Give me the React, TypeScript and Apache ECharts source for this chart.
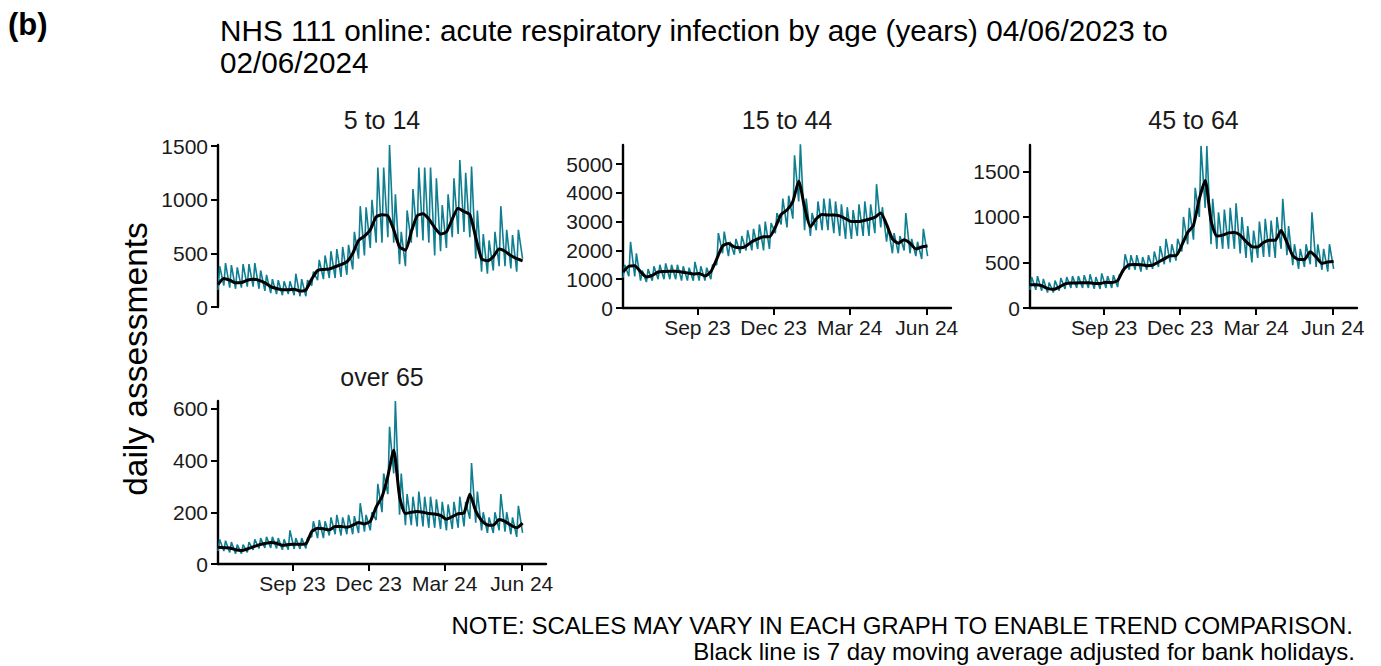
import React, { useEffect, useRef } from "react";
import * as echarts from "echarts";

// Weekly readings (week 0 starts Sun 04/06/2023). Lows: 53 values (weeks 0..52), highs: 52 values, avg: 53 values.
const age5to14High = [380, 410, 390, 370, 400, 400, 410, 340, 300, 260, 250, 240, 240, 310, 260, 250, 330, 440, 480, 520, 540, 560, 580, 700, 940, 930, 1000, 1300, 1300, 1510, 1050, 700, 900, 1100, 1300, 1300, 1300, 1200, 950, 1050, 1200, 1370, 1250, 1310, 900, 680, 620, 700, 940, 720, 670, 720];
const age5to14Low = [160, 200, 180, 170, 180, 190, 190, 170, 150, 130, 120, 110, 120, 110, 100, 100, 200, 250, 260, 270, 270, 280, 300, 350, 450, 480, 550, 600, 600, 650, 600, 400, 380, 600, 650, 620, 600, 480, 520, 550, 650, 680, 700, 650, 450, 330, 310, 340, 380, 380, 360, 330, 450];
const age5to14Avg = [210, 265, 250, 225, 228, 250, 258, 248, 225, 190, 172, 160, 160, 165, 148, 160, 260, 340, 350, 355, 375, 395, 420, 500, 620, 660, 720, 840, 860, 850, 720, 560, 530, 700, 850, 870, 820, 740, 680, 700, 820, 920, 890, 860, 650, 450, 430, 470, 540, 520, 480, 450, 430];

const age15to44High = [1500, 2300, 1900, 1300, 1350, 1450, 1500, 1550, 1500, 1500, 1450, 1400, 1600, 1450, 1400, 1500, 2600, 2650, 2300, 2400, 2500, 2700, 2750, 2900, 3000, 2950, 3300, 3800, 3900, 5300, 5700, 3800, 3300, 3700, 3800, 3800, 3700, 3600, 3500, 3400, 3600, 3700, 3600, 4300, 3500, 2800, 2600, 2500, 3300, 2400, 2300, 2750];
const age15to44Low = [1050, 1100, 1100, 950, 900, 950, 1000, 1000, 1000, 1000, 950, 950, 950, 950, 950, 1000, 1500, 1900, 1800, 1850, 1900, 2000, 2000, 2050, 2000, 2050, 2600, 2900, 2800, 3100, 3700, 2700, 2500, 2700, 2700, 2700, 2600, 2500, 2400, 2400, 2500, 2500, 2500, 2600, 2800, 2300, 1900, 1900, 2000, 1900, 1800, 1700, 1800];
const age15to44Avg = [1250, 1450, 1470, 1260, 1080, 1130, 1250, 1270, 1280, 1280, 1250, 1220, 1180, 1200, 1110, 1260, 1700, 2150, 2240, 2120, 2090, 2150, 2300, 2400, 2475, 2470, 2800, 3250, 3400, 3700, 4400, 3500, 2820, 3100, 3250, 3230, 3230, 3200, 3100, 3000, 3000, 3030, 3080, 3150, 3300, 2900, 2400, 2250, 2370, 2250, 2050, 2120, 2150];

const age45to64High = [340, 350, 320, 280, 300, 330, 340, 350, 350, 360, 370, 340, 380, 350, 360, 360, 590, 580, 580, 560, 580, 620, 680, 760, 700, 760, 1000, 1100, 1320, 1780, 1780, 1200, 1050, 1080, 1100, 1150, 1000, 900, 850, 950, 980, 960, 1000, 1200, 900, 700, 650, 700, 1050, 700, 650, 700];
const age45to64Low = [200, 200, 190, 170, 170, 190, 210, 220, 220, 220, 220, 210, 210, 220, 220, 230, 400, 420, 420, 400, 420, 430, 450, 480, 500, 520, 620, 700, 750, 1000, 1100, 700, 650, 650, 650, 650, 600, 550, 500, 550, 560, 560, 550, 650, 580, 470, 430, 450, 480, 450, 420, 400, 430];
const age45to64Avg = [255, 255, 245, 215, 205, 230, 265, 275, 275, 278, 278, 270, 270, 282, 280, 300, 420, 475, 478, 476, 465, 471, 505, 540, 573, 575, 690, 830, 910, 1200, 1400, 960, 790, 800, 825, 830, 800, 730, 675, 670, 720, 745, 745, 850, 720, 575, 533, 533, 617, 560, 490, 505, 510];

const over65High = [95, 90, 85, 75, 75, 85, 95, 100, 105, 105, 100, 95, 130, 100, 100, 100, 165, 170, 165, 180, 190, 180, 190, 185, 235, 190, 200, 310, 350, 530, 630, 350, 270, 260, 280, 260, 260, 250, 240, 230, 240, 260, 240, 390, 280, 200, 180, 200, 270, 200, 180, 225];
const over65Low = [50, 50, 45, 40, 40, 45, 55, 60, 62, 62, 60, 55, 55, 58, 58, 60, 105, 100, 100, 110, 115, 110, 115, 115, 120, 125, 130, 170, 200, 270, 350, 190, 150, 150, 145, 145, 140, 140, 135, 130, 135, 140, 145, 175, 160, 130, 120, 120, 130, 125, 115, 105, 120];
const over65Avg = [65, 63, 62, 55, 52, 58, 66, 74, 79, 83, 80, 72, 75, 76, 76, 78, 125, 138, 136, 132, 145, 145, 142, 150, 160, 155, 165, 220, 260, 340, 440, 260, 195, 200, 203, 200, 195, 193, 188, 173, 183, 194, 197, 270, 205, 168, 151, 150, 172, 165, 150, 140, 158];

const panelTitles = ["5 to 14", "15 to 44", "45 to 64", "over 65"];
const yTicks5to14 = [0, 500, 1000, 1500];
const yTicks15to44 = [0, 1000, 2000, 3000, 4000, 5000];
const yTicks45to64 = [0, 500, 1000, 1500];
const yTicksOver65 = [0, 200, 400, 600];

const MONTHS = ["Jan", "Feb", "Mar", "Apr", "May", "Jun", "Jul", "Aug", "Sep", "Oct", "Nov", "Dec"];
const dayTs = (d: number) => new Date(2023, 5, 4 + d).getTime();
const xTicks = [new Date(2023, 8, 1).getTime(), new Date(2023, 11, 1).getTime(), new Date(2024, 2, 1).getTime(), new Date(2024, 5, 1).getTime()];
const xMin = dayTs(0);
const xMax = new Date(2024, 5, 30).getTime();

const FONT = "Liberation Sans, Arial, Helvetica, sans-serif";
const TEAL = "#0f7e90";

function dailySeries(high: number[], low: number[]) {
  const out: [number, number][] = [];
  for (let i = 0; i < low.length; i++) {
    out.push([dayTs(7 * i), low[i]]);
    if (i < high.length) out.push([dayTs(7 * i + 2), high[i]]);
  }
  return out;
}
function avgSeries(avg: number[]) {
  return avg.map((v, i) => [dayTs(Math.min(7 * i, 364)), v]);
}

const panels = [
  { high: age5to14High, low: age5to14Low, avg: age5to14Avg, ticks: yTicks5to14, yMax: 1510, showX: false, grid: { left: 218, top: 145, width: 328, height: 162 } },
  { high: age15to44High, low: age15to44Low, avg: age15to44Avg, ticks: yTicks15to44, yMax: 5660, showX: true, grid: { left: 623, top: 145, width: 328, height: 163 } },
  { high: age45to64High, low: age45to64Low, avg: age45to64Avg, ticks: yTicks45to64, yMax: 1790, showX: true, grid: { left: 1030, top: 145, width: 327, height: 163 } },
  { high: over65High, low: over65Low, avg: over65Avg, ticks: yTicksOver65, yMax: 630, showX: true, grid: { left: 218, top: 401, width: 328, height: 163 } },
];

export default function App() {
  const ref = useRef<HTMLDivElement>(null);
  useEffect(() => {
    if (!ref.current) return;
    const chart = echarts.init(ref.current, undefined, { renderer: "svg" });
    const axisLine = { show: true, lineStyle: { color: "#000", width: 2.4 } };
    const axisTick = { show: true, length: 7, lineStyle: { color: "#000", width: 2 } };
    const option: any = {
      animation: false,
      backgroundColor: "#fff",
      grid: panels.map((p) => ({ ...p.grid, containLabel: false })),
      xAxis: panels.map((p, i) => ({
        type: "value",
        gridIndex: i,
        min: xMin,
        max: xMax,
        show: p.showX,
        axisLine: { ...axisLine, onZero: false },
        axisTick: { ...axisTick, customValues: xTicks },
        splitLine: { show: false },
        axisLabel: {
          customValues: xTicks,
          margin: 9,
          fontSize: 21,
          fontFamily: FONT,
          color: "#1a1a1a",
          formatter: (v: number) => {
            const d = new Date(v);
            return MONTHS[d.getMonth()] + " " + String(d.getFullYear() % 100).padStart(2, "0");
          },
        },
      })),
      yAxis: panels.map((p, i) => ({
        type: "value",
        gridIndex: i,
        min: 0,
        max: p.yMax,
        axisLine,
        axisTick: { ...axisTick, customValues: p.ticks },
        splitLine: { show: false },
        axisLabel: { customValues: p.ticks, margin: 10, fontSize: 21, fontFamily: FONT, color: "#1a1a1a", formatter: (v: number) => String(v) },
      })),
      series: panels.flatMap((p, i) => [
        {
          type: "line",
          xAxisIndex: i,
          yAxisIndex: i,
          data: dailySeries(p.high, p.low),
          showSymbol: false,
          lineStyle: { color: TEAL, width: 1.6 },
          silent: true,
        },
        {
          type: "line",
          xAxisIndex: i,
          yAxisIndex: i,
          data: avgSeries(p.avg),
          showSymbol: false,
          smooth: 0.2,
          lineStyle: { color: "#000", width: 3 },
          silent: true,
        },
      ]),
      graphic: [
        { type: "text", left: 8, top: 9, style: { text: "(b)", fontSize: 31, fontWeight: "bold", fontFamily: FONT, fill: "#000" } },
        {
          type: "text",
          x: 220,
          y: 14,
          style: {
            text: "NHS 111 online: acute respiratory infection by age (years) 04/06/2023 to\n02/06/2024",
            fontSize: 29.7,
            lineHeight: 32,
            fontFamily: FONT,
            fill: "#000",
            textVerticalAlign: "top",
          },
        },
        ...panelTitles.map((t, i) => ({
          type: "text",
          x: panels[i].grid.left + panels[i].grid.width / 2,
          y: i === 3 ? 377 : 120,
          style: { text: t, fontSize: 25, fontFamily: FONT, fill: "#1a1a1a", textAlign: "center", textVerticalAlign: "middle" },
        })),
        {
          type: "text",
          x: 135,
          y: 359,
          rotation: Math.PI / 2,
          style: { text: "daily assessments", fontSize: 33.5, fontFamily: FONT, fill: "#000", textAlign: "center", textVerticalAlign: "middle" },
        },
        {
          type: "text",
          x: 1353,
          y: 625,
          style: { text: "NOTE: SCALES MAY VARY IN EACH GRAPH TO ENABLE TREND COMPARISON.", fontSize: 24, fontFamily: FONT, fill: "#000", textAlign: "right", textVerticalAlign: "middle" },
        },
        {
          type: "text",
          x: 1355,
          y: 651,
          style: { text: "Black line is 7 day moving average adjusted for bank holidays.", fontSize: 24, fontFamily: FONT, fill: "#000", textAlign: "right", textVerticalAlign: "middle" },
        },
      ],
    };
    chart.setOption(option);
    return () => chart.dispose();
  }, []);
  return <div ref={ref} style={{ position: "fixed", left: 0, top: 0, width: 1381, height: 666, background: "#fff" }} />;
}
